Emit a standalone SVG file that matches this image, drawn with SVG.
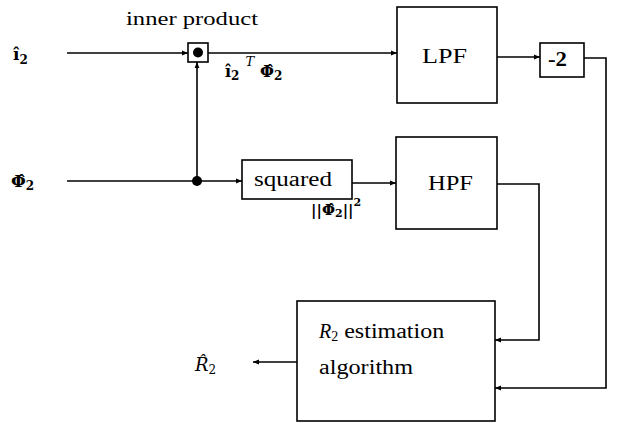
<svg xmlns="http://www.w3.org/2000/svg" width="628" height="423" viewBox="0 0 628 423">
<defs>
<style>
.box{fill:#fff;stroke:#000;stroke-width:1.6}
.ln{fill:none;stroke:#000;stroke-width:1.6}
.t{font-family:"Liberation Serif","DejaVu Serif",serif;fill:#000}
.m{font-family:"DejaVu Serif","Liberation Serif",serif;fill:#000}
.b{font-weight:bold}
.i{font-style:italic}
</style>
<marker id="ah" viewBox="0 0 10 10" refX="10" refY="5" markerWidth="7" markerHeight="6" markerUnits="userSpaceOnUse" orient="auto">
<path d="M0,1 L10,5 L0,9 z" fill="#000"/>
</marker>
</defs>
<rect width="628" height="423" fill="#fff"/>

<g id="inputs">
<text class="m b" x="13" y="60" font-size="17">î<tspan font-size="12" dy="4">2</tspan></text>
<text class="m b" x="11" y="187" font-size="17">Φ̂<tspan font-size="12" dy="3">2</tspan></text>
</g>

<g id="inner-product">
<text class="t" x="126" y="25" font-size="18" textLength="132" lengthAdjust="spacingAndGlyphs">inner product</text>
<rect class="box" x="188" y="43" width="20" height="19"/>
<circle cx="198" cy="52.5" r="5" fill="#000"/>
</g>

<g id="lpf">
<rect class="box" x="397" y="7" width="100" height="96"/>
<text class="t" x="422" y="63" font-size="20" textLength="45" lengthAdjust="spacingAndGlyphs">LPF</text>
</g>

<g id="gain">
<rect class="box" x="540" y="43" width="44" height="34"/>
<text class="t b" x="548" y="66" font-size="20" textLength="19" lengthAdjust="spacingAndGlyphs">-2</text>
</g>

<g id="squared">
<rect class="box" x="242" y="160" width="110" height="39"/>
<text class="t" x="254" y="186" font-size="20" textLength="78" lengthAdjust="spacingAndGlyphs">squared</text>
</g>

<g id="hpf">
<rect class="box" x="396" y="137" width="101" height="92"/>
<text class="t" x="428" y="190" font-size="20" textLength="45" lengthAdjust="spacingAndGlyphs">HPF</text>
</g>

<g id="r2-estimation">
<rect class="box" x="297" y="301" width="198" height="120"/>
<text class="t" x="319" y="338" font-size="20"><tspan class="i">R</tspan><tspan font-size="14" dy="3">2</tspan><tspan dy="-3" textLength="106" lengthAdjust="spacingAndGlyphs"> estimation</tspan></text>
<text class="t" x="319" y="374" font-size="20" textLength="94" lengthAdjust="spacingAndGlyphs">algorithm</text>
</g>

<g id="output">
<text class="m i" x="195" y="371" font-size="18">R̂<tspan font-size="12" dy="3" font-style="normal">2</tspan></text>
</g>

<g id="signal-labels">
<text class="m b" x="225" y="77" font-size="16">î<tspan font-size="12" dy="3">2</tspan><tspan class="i" font-weight="normal" font-size="13" dy="-14" dx="6">T</tspan><tspan dy="11" dx="6">Φ̂</tspan><tspan font-size="12" dy="3">2</tspan></text>
<text class="m b" x="311" y="215" font-size="15">||Φ̂<tspan font-size="11" dy="2">2</tspan><tspan dy="-2">||</tspan><tspan font-size="11" dy="-9">2</tspan></text>
</g>

<g id="connectors">
<line class="ln" x1="67" y1="53" x2="188" y2="53" marker-end="url(#ah)"/>
<line class="ln" x1="208" y1="53" x2="397" y2="53" marker-end="url(#ah)"/>
<line class="ln" x1="67" y1="181" x2="196" y2="181"/>
<circle cx="197" cy="181" r="5" fill="#000"/>
<line class="ln" x1="197" y1="181" x2="197" y2="62" marker-end="url(#ah)"/>
<line class="ln" x1="197" y1="181" x2="242" y2="181" marker-end="url(#ah)"/>
<line class="ln" x1="352" y1="183" x2="396" y2="183" marker-end="url(#ah)"/>
<line class="ln" x1="497" y1="57" x2="540" y2="57" marker-end="url(#ah)"/>
<polyline class="ln" points="584,58 606,58 606,388 495,388" marker-end="url(#ah)"/>
<polyline class="ln" points="497,184 539,184 539,340 495,340" marker-end="url(#ah)"/>
<line class="ln" x1="297" y1="362" x2="253" y2="362" marker-end="url(#ah)"/>
</g>
</svg>
